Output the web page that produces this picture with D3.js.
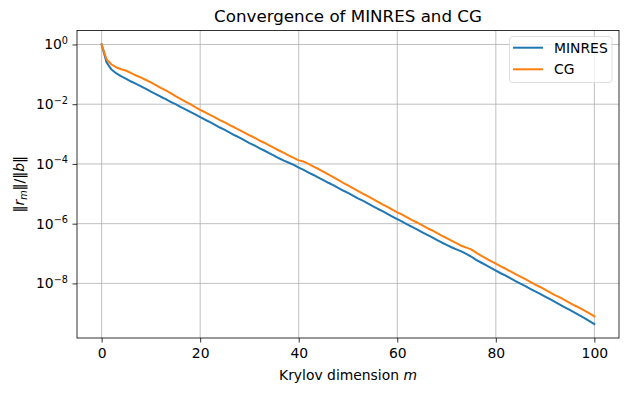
<!DOCTYPE html>
<html>
<head>
<meta charset="utf-8">
<script src="https://cdn.jsdelivr.net/npm/d3@7"></script>
<style>
  body { margin: 0; background: #fff; }
  svg { font-family: "DejaVu Sans", sans-serif; display: block; }
</style>
</head>
<body>
<div id="chart"></div>
<script>
// Krylov dimension m = 0..100
const iterations = d3.range(0, 101);

// log10 of relative residual ||r_m|| / ||b||
const minresLog10 = [
    0.00, -0.60, -0.84, -0.97, -1.07, -1.15, -1.24, -1.32, -1.40, -1.49,
    -1.58, -1.66, -1.75, -1.83, -1.92, -2.00, -2.09, -2.17, -2.26, -2.34,
    -2.43, -2.52, -2.60, -2.69, -2.78, -2.86, -2.95, -3.04, -3.12, -3.21,
    -3.30, -3.38, -3.47, -3.55, -3.64, -3.72, -3.81, -3.89, -3.96, -4.03,
    -4.12, -4.20, -4.29, -4.37, -4.46, -4.54, -4.63, -4.71, -4.80, -4.89,
    -4.97, -5.06, -5.15, -5.23, -5.32, -5.41, -5.50, -5.58, -5.67, -5.76,
    -5.85, -5.93, -6.02, -6.11, -6.19, -6.28, -6.37, -6.45, -6.54, -6.63,
    -6.71, -6.79, -6.86, -6.93, -7.01, -7.10, -7.21, -7.30, -7.39, -7.48,
    -7.57, -7.66, -7.74, -7.83, -7.92, -8.01, -8.09, -8.18, -8.27, -8.35,
    -8.44, -8.53, -8.62, -8.71, -8.80, -8.89, -8.98, -9.07, -9.16, -9.26,
    -9.36
];

const cgLog10 = [
    0.00, -0.50, -0.67, -0.77, -0.83, -0.88, -0.96, -1.04, -1.11, -1.19,
    -1.27, -1.36, -1.45, -1.54, -1.63, -1.73, -1.82, -1.91, -2.00, -2.10,
    -2.19, -2.27, -2.36, -2.44, -2.53, -2.61, -2.70, -2.78, -2.87, -2.95,
    -3.04, -3.12, -3.21, -3.29, -3.38, -3.46, -3.55, -3.63, -3.72, -3.80,
    -3.88, -3.92, -4.00, -4.09, -4.17, -4.26, -4.35, -4.44, -4.53, -4.63,
    -4.72, -4.81, -4.90, -4.99, -5.08, -5.17, -5.26, -5.35, -5.44, -5.53,
    -5.62, -5.70, -5.79, -5.88, -5.96, -6.05, -6.14, -6.22, -6.31, -6.40,
    -6.48, -6.57, -6.65, -6.74, -6.80, -6.86, -6.97, -7.07, -7.16, -7.25,
    -7.34, -7.43, -7.51, -7.60, -7.69, -7.77, -7.86, -7.95, -8.04, -8.12,
    -8.21, -8.30, -8.39, -8.47, -8.56, -8.65, -8.74, -8.82, -8.91, -9.00,
    -9.10
];

const xTicks = [0, 20, 40, 60, 80, 100];
const yTickExponents = [0, -2, -4, -6, -8];
const seriesNames = ["MINRES", "CG"];
const seriesColors = ["#1f77b4", "#ff7f0e"];

const W = 629, H = 395;
const margin = { top: 30.5, left: 77, right: 10, bottom: 57 };
const width = W - margin.left - margin.right;
const height = H - margin.top - margin.bottom;
const fs = 13.9; // 10pt

const series = [minresLog10, cgLog10].map((arr, i) => ({
    name: seriesNames[i],
    color: seriesColors[i],
    values: arr.map((e, k) => ({ m: iterations[k], r: Math.pow(10, e) }))
}));

// matplotlib-like 5% autoscale margins
const xExt = d3.extent(iterations);
const xPad = 0.05 * (xExt[1] - xExt[0]);
const allLog = minresLog10.concat(cgLog10);
const yLo = d3.min(allLog), yHi = d3.max(allLog);
const yPad = 0.05 * (yHi - yLo);

const x = d3.scaleLinear()
    .domain([xExt[0] - xPad, xExt[1] + xPad])
    .range([0, width]);

const y = d3.scaleLog()
    .domain([Math.pow(10, yLo - yPad), Math.pow(10, yHi + yPad)])
    .range([height, 0]);

const svg = d3.select("#chart").append("svg")
    .attr("width", W)
    .attr("height", H);

const g = svg.append("g").attr("transform", `translate(${margin.left},${margin.top})`);

// grid
g.append("g").selectAll("line")
    .data(xTicks)
    .join("line")
    .attr("x1", d => x(d)).attr("x2", d => x(d))
    .attr("y1", 0).attr("y2", height)
    .attr("stroke", "#b0b0b0").attr("stroke-width", 0.8);

g.append("g").selectAll("line")
    .data(yTickExponents)
    .join("line")
    .attr("x1", 0).attr("x2", width)
    .attr("y1", d => y(Math.pow(10, d))).attr("y2", d => y(Math.pow(10, d)))
    .attr("stroke", "#b0b0b0").attr("stroke-width", 0.8);

// lines
const line = d3.line()
    .x(d => x(d.m))
    .y(d => y(d.r));

g.append("g").selectAll("path")
    .data(series)
    .join("path")
    .attr("fill", "none")
    .attr("stroke", d => d.color)
    .attr("stroke-width", 2)
    .attr("stroke-linejoin", "round")
    .attr("stroke-linecap", "square")
    .attr("d", d => line(d.values));

// x axis
const xAxis = d3.axisBottom(x).tickValues(xTicks).tickSize(4.5).tickPadding(5.5);
const gx = g.append("g")
    .attr("transform", `translate(0,${height})`)
    .call(xAxis);
gx.select(".domain").remove();
gx.selectAll("text")
    .attr("font-size", fs + "px")
    .attr("fill", "#000")
    .attr("font-family", "DejaVu Sans");
gx.selectAll("line").attr("stroke", "#000").attr("stroke-width", 0.8);

// y axis (log, labels as 10^k)
const yAxis = d3.axisLeft(y)
    .tickValues(yTickExponents.map(e => Math.pow(10, e)))
    .tickSize(4.5).tickPadding(5)
    .tickFormat("");
const gy = g.append("g").call(yAxis);
gy.select(".domain").remove();
gy.selectAll("line").attr("stroke", "#000").attr("stroke-width", 0.8);

const yLabels = g.append("g");
yTickExponents.forEach(e => {
    const t = yLabels.append("text")
        .attr("x", -9)
        .attr("y", y(Math.pow(10, e)) + 5)
        .attr("text-anchor", "end")
        .attr("font-size", fs + "px")
        .attr("fill", "#000");
    t.append("tspan").text("10");
    t.append("tspan")
        .attr("dy", -5.5)
        .attr("font-size", "9.7px")
        .text(e === 0 ? "0" : "\u2212" + Math.abs(e));
});

// spines
g.append("rect")
    .attr("x", 0).attr("y", 0)
    .attr("width", width).attr("height", height)
    .attr("fill", "none")
    .attr("stroke", "#000")
    .attr("stroke-width", 0.8);

// title
svg.append("text")
    .attr("x", margin.left + width / 2)
    .attr("y", 22)
    .attr("text-anchor", "middle")
    .attr("font-size", "16.7px")
    .attr("fill", "#000")
    .text("Convergence of MINRES and CG");

// x label
const xl = svg.append("text")
    .attr("x", margin.left + width / 2)
    .attr("y", 380)
    .attr("text-anchor", "middle")
    .attr("font-size", fs + "px")
    .attr("fill", "#000");
xl.append("tspan").text("Krylov dimension ");
xl.append("tspan").attr("font-style", "italic").text("m");

// y label
const yl = svg.append("text")
    .attr("transform", `translate(24,${margin.top + height / 2}) rotate(-90)`)
    .attr("text-anchor", "middle")
    .attr("font-size", fs + "px")
    .attr("fill", "#000");
yl.append("tspan").text("\u2016");
yl.append("tspan").attr("font-style", "italic").text("r");
yl.append("tspan").attr("font-style", "italic").attr("font-size", "9.7px").attr("dy", 3).text("m");
yl.append("tspan").attr("dy", -3).text("\u2016/\u2016");
yl.append("tspan").attr("font-style", "italic").text("b");
yl.append("tspan").text("\u2016");

// legend
const legend = svg.append("g").attr("transform", "translate(509.5,36.5)");
legend.append("rect")
    .attr("width", 102.5).attr("height", 46)
    .attr("rx", 3)
    .attr("fill", "#fff").attr("fill-opacity", 0.8)
    .attr("stroke", "#d6d6d6").attr("stroke-width", 0.8);

const items = legend.selectAll("g.item")
    .data(series)
    .join("g")
    .attr("class", "item")
    .attr("transform", (d, i) => `translate(0,${11.2 + i * 21.6})`);
items.append("line")
    .attr("x1", 3.5).attr("x2", 33.5)
    .attr("stroke", d => d.color)
    .attr("stroke-width", 2);
items.append("text")
    .attr("x", 44.5)
    .attr("y", 5)
    .attr("font-size", fs + "px")
    .attr("fill", "#000")
    .text(d => d.name);
</script>
</body>
</html>
